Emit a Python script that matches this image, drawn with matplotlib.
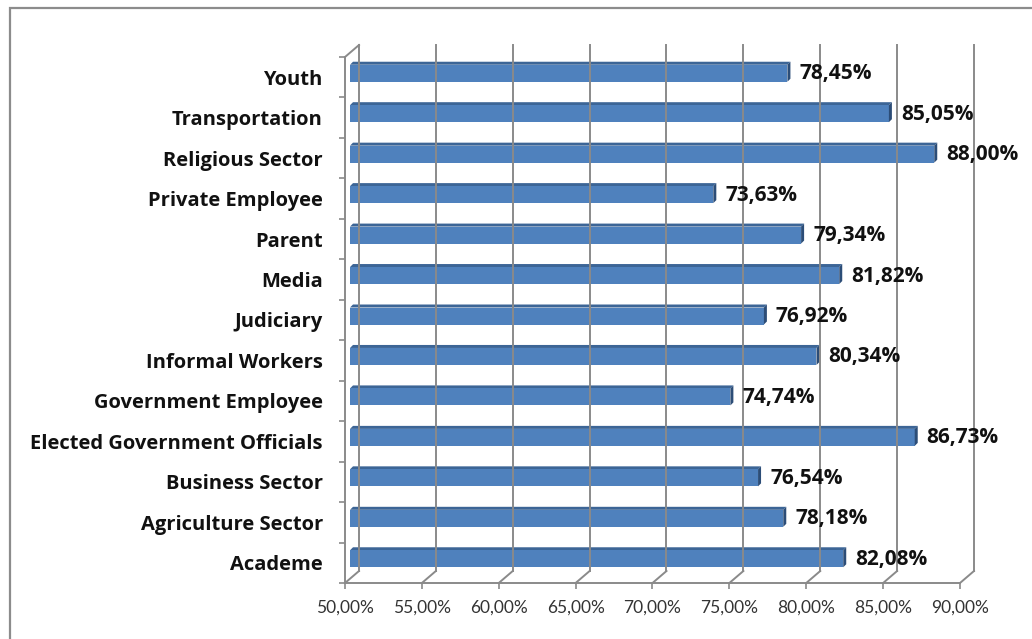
import matplotlib
matplotlib.use("Agg")
import matplotlib.pyplot as plt
from matplotlib.patches import Rectangle, Polygon

plt.rcParams['font.family'] = ['Lato', 'DejaVu Sans']

# categorias (de baixo para cima) e valores em %
categorias = [
    'Academe', 'Agriculture Sector', 'Business Sector',
    'Elected Government Officials', 'Government Employee', 'Informal Workers',
    'Judiciary', 'Media', 'Parent', 'Private Employee', 'Religious Sector',
    'Transportation', 'Youth'
]
valores = [82.08, 78.18, 76.54, 86.73, 74.74, 80.34,
           76.92, 81.82, 79.34, 73.63, 88.00, 85.05, 78.45]
ticks_x = [50, 55, 60, 65, 70, 75, 80, 85, 90]

W, H = 1032, 639
fig = plt.figure(figsize=(W / 100, H / 100), dpi=100)
x0, x1, y_top, y_bot = 345, 960, 57, 583
ax = fig.add_axes([x0 / W, (H - y_bot) / H, (x1 - x0) / W, (y_bot - y_top) / H])
ax.set_xlim(50, 90)
ax.set_ylim(-0.5, len(categorias) - 0.5)

# conversao pixel -> unidades de dados (efeito 3D)
sx = 40 / (x1 - x0)
sy = len(categorias) / (y_bot - y_top)
bx, by = 14 * sx, 12 * sy        # parede do fundo
ox, oy = 5 * sx, 4 * sy          # deslocamento das barras
dx, dy = 3 * sx, 3 * sy          # profundidade das barras
hh = 8.5 * sy

grid_c = '#8a8a8a'
ymin, ymax = -0.5, len(categorias) - 0.5
bold_font = ['Open Sans', 'DejaVu Sans']

# grade no fundo + diagonais do piso
for t in ticks_x:
    ax.plot([t + bx, t + bx], [ymin + by, ymax + by], color=grid_c, lw=1.4, clip_on=False)
    ax.plot([t, t + bx], [ymin, ymin + by], color=grid_c, lw=1.4, clip_on=False)
# eixos da frente
ax.plot([50, 90], [ymin, ymin], color=grid_c, lw=1.4, clip_on=False)
ax.plot([50, 50], [ymin, ymax], color=grid_c, lw=1.4, clip_on=False)
ax.plot([50, 50 + bx], [ymax, ymax + by], color=grid_c, lw=1.4, clip_on=False)

# barras
for i, v in enumerate(valores):
    yc = i + oy
    ax.add_patch(Polygon([(50 + ox, yc + hh), (v + ox, yc + hh),
                          (v + ox + dx, yc + hh + dy), (50 + ox + dx, yc + hh + dy)],
                         closed=True, facecolor='#3c6596', edgecolor='none', clip_on=False))
    ax.add_patch(Rectangle((50 + ox, yc - hh), v - 50, 2 * hh,
                           facecolor='#4f81bd', edgecolor='none', clip_on=False))
    ax.add_patch(Polygon([(v + ox, yc - hh), (v + ox, yc + hh),
                          (v + ox + dx, yc + hh + dy), (v + ox + dx, yc - hh + dy)],
                         closed=True, facecolor='#2c4d77', edgecolor='none', clip_on=False))
    ax.text(v + ox + dx + 9 * sx, yc - 0.5 * sy, f'{v:.2f}%'.replace('.', ','),
            ha='left', va='center', fontsize=15, fontweight='bold',
            family=bold_font, color='#111111')

for s in ax.spines.values():
    s.set_visible(False)

ax.set_yticks(range(len(categorias)))
ax.set_yticklabels(categorias, fontsize=14.5, fontweight='bold',
                   family=bold_font, color='#111111')
ax.set_yticks([i - 0.5 for i in range(len(categorias) + 1)], minor=True)
ax.tick_params(axis='y', which='major', length=0, pad=16)
ax.tick_params(axis='y', which='minor', length=4, width=1.2, color=grid_c)
ax.set_xticks(ticks_x)
ax.set_xticklabels([f'{t:.2f}%'.replace('.', ',') for t in ticks_x],
                   fontsize=12.5, color='#333333')
ax.tick_params(axis='x', length=4, width=1.2, color=grid_c, pad=8)
ax.patch.set_alpha(0)

# moldura do grafico
fig.patches.append(Rectangle((10 / W, -0.1), 1.2, 1.1 - 8 / H, transform=fig.transFigure,
                             fill=False, edgecolor='#8c8c8c', lw=1.6))

fig.savefig('out.png', dpi=100)
